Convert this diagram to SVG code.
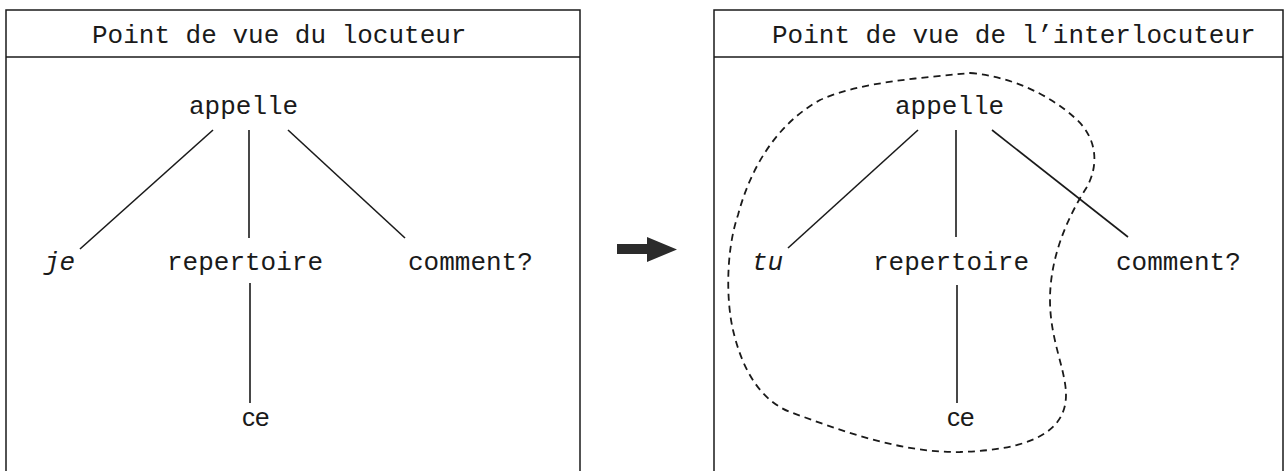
<svg xmlns="http://www.w3.org/2000/svg" width="1286" height="471" viewBox="0 0 1286 471">
<style>
.frame{fill:none;stroke:#1a1a1a;stroke-width:1.5}
.t{font-family:"Liberation Mono","Courier New",monospace;font-size:26px;fill:#1a1a1a}
.it{font-style:italic}
.s{font-family:"Liberation Sans",Arial,sans-serif;font-size:26px;fill:#1a1a1a}
.edge{stroke:#1a1a1a;stroke-width:1.6;fill:none}
.blob{fill:none;stroke:#1a1a1a;stroke-width:1.8;stroke-dasharray:7 5}
</style>
<rect width="1286" height="471" fill="#ffffff"/>
<g id="panel-left">
  <path class="frame" d="M6,471 V10 H580 V471"/>
  <line class="frame" x1="6" y1="57" x2="580" y2="57"/>
  <text class="t" x="92" y="43">Point de vue du locuteur</text>
</g>
<g id="panel-right">
  <path class="frame" d="M714,471 V10 H1283 V471"/>
  <line class="frame" x1="714" y1="57" x2="1283" y2="57"/>
  <text class="t" x="772" y="43">Point de vue de l’interlocuteur</text>
</g>
<g id="l-appelle"><text class="t" x="189" y="114">appelle</text></g>
<g id="l-je"><text class="t it" x="44" y="270">je</text></g>
<g id="l-repertoire"><text class="t" x="167" y="270">repertoire</text></g>
<g id="l-comment"><text class="t" x="408" y="270">comment?</text></g>
<g id="l-ce"><text class="s" x="242" y="426">ce</text></g>
<g id="r-appelle"><text class="t" x="895" y="114">appelle</text></g>
<g id="r-tu"><text class="t it" x="752" y="270">tu</text></g>
<g id="r-repertoire"><text class="t" x="873" y="270">repertoire</text></g>
<g id="r-comment"><text class="t" x="1116" y="270">comment?</text></g>
<g id="r-ce"><text class="s" x="947" y="426">ce</text></g>
<g id="r-scope">
  <path class="blob" d="M970,73 C1010,76 1050,95 1075,118 C1100,140 1098,170 1085,190 C1065,222 1050,260 1050,300 C1050,340 1066,370 1066,395 C1066,432 1030,450 960,452 C900,453 840,430 790,412 C755,398 740,360 733,330 C726,300 726,250 738,215 C750,170 775,125 820,100 C860,82 920,78 970,73 Z"/>
</g>
<g id="connectors">
  <line class="edge" x1="213" y1="130" x2="80" y2="249"/>
  <line class="edge" x1="249" y1="130" x2="249" y2="238"/>
  <line class="edge" x1="288" y1="130" x2="405" y2="238"/>
  <line class="edge" x1="250" y1="283" x2="250" y2="403"/>
  <line class="edge" x1="918" y1="130" x2="788" y2="248"/>
  <line class="edge" x1="956" y1="130" x2="956" y2="237"/>
  <line class="edge" x1="992" y1="130" x2="1128" y2="237"/>
  <line class="edge" x1="957" y1="285" x2="957" y2="403"/>
  <path id="arrow" d="M617,244 H647 V237 L677,249.5 L647,262 V254 H617 Z" fill="#2b2b2b"/>
</g>
</svg>
